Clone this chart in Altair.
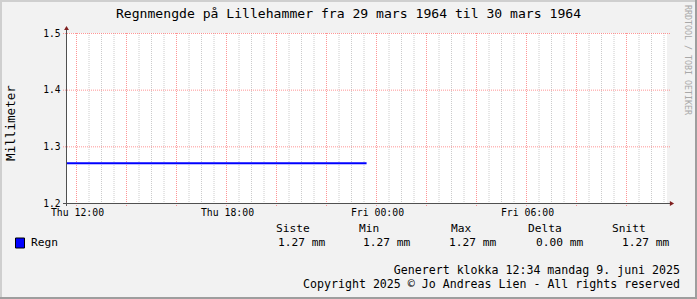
import altair as alt
import pandas as pd

FONT = "DejaVu Sans Mono"

# ---- data ----
title_text = "Regnmengde på Lillehammer fra 29 mars 1964 til 30 mars 1964"
y_title = "Millimeter"
watermark = "RRDTOOL / TOBI OETIKER"
series_name = "Regn"
line_times = ["1964-03-29T11:36:00Z", "1964-03-29T23:35:00Z"]
line_values = [1.27, 1.27]
x_start = "1964-03-29T11:36:00Z"
x_end = "1964-03-30T11:36:00Z"
x_label_times = ["1964-03-29T12:00:00Z", "1964-03-29T18:00:00Z",
                 "1964-03-30T00:00:00Z", "1964-03-30T06:00:00Z"]
x_tick_labels = ["Thu 12:00", "Thu 18:00", "Fri 00:00", "Fri 06:00"]
y_ticks = [1.2, 1.3, 1.4, 1.5]
stat_headers = ["Siste", "Min", "Max", "Delta", "Snitt"]
stat_values = ["1.27 mm", "1.27 mm", "1.27 mm", "0.00 mm", "1.27 mm"]
footer_lines = ["Generert klokka 12:34 mandag 9. juni 2025",
                "Copyright 2025 © Jo Andreas Lien - All rights reserved"]


def ms(s):
    return int(pd.Timestamp(s).value // 1_000_000)


x_domain = [ms(x_start), ms(x_end)]
major_grid = [ms(t) for t in pd.date_range("1964-03-29T12:00:00Z", "1964-03-30T10:00:00Z", freq="2h")]
minor_all = [ms(t) for t in pd.date_range("1964-03-29T12:30:00Z", "1964-03-30T11:30:00Z", freq="30min")]
minor_grid = [t for t in minor_all if t not in major_grid]

OX, OY = 67, 33  # view origin in page pixels

xscale = alt.Scale(type="utc", domain=x_domain)
yscale = alt.Scale(domain=[1.2, 1.5])

label_expr = "''"
for t, lab in zip(reversed(x_label_times), reversed(x_tick_labels)):
    label_expr = f"(+datum.value == {ms(t)} ? '{lab}' : {label_expr})"

X_AX = alt.Axis(values=[ms(t) for t in x_label_times],
                labelExpr=label_expr,
                labelFont=FONT, labelFontSize=9.8, labelColor="#000",
                labelBaseline="middle", labelPadding=9, ticks=False,
                domain=False, grid=False, labelFlush=False, title=None)
Y_AX = alt.Axis(values=y_ticks, format=".1f", labelFont=FONT,
                labelFontSize=9.6, labelColor="#000", labelPadding=7,
                ticks=False, domain=False, grid=False, title=None)

line_df = pd.DataFrame({"t": [ms(t) for t in line_times], "v": line_values})

minor = alt.Chart(pd.DataFrame({"t": minor_grid})).mark_rule(
    color="#CCCCCC", strokeDash=[1, 1], strokeWidth=1, xOffset=-0.5
).encode(x=alt.X("t:T", scale=xscale, axis=X_AX, title=None), y=alt.value(0), y2=alt.value(172))

major = alt.Chart(pd.DataFrame({"t": major_grid})).mark_rule(
    color="#FF6A6A", strokeDash=[1, 1], strokeWidth=1, xOffset=-0.5, opacity=0.7
).encode(x=alt.X("t:T", scale=xscale, axis=X_AX, title=None), y=alt.value(0), y2=alt.value(174))

hgrid = alt.Chart(pd.DataFrame({"v": y_ticks})).mark_rule(
    color="#FF6A6A", strokeDash=[1, 1], strokeWidth=1, yOffset=0.5, opacity=0.7
).encode(y=alt.Y("v:Q", scale=yscale, axis=Y_AX, title=None), x=alt.value(-4), x2=alt.value(603))

data_line = alt.Chart(line_df).mark_line(color="#0000FF", strokeWidth=2).encode(
    x=alt.X("t:T", scale=xscale, axis=X_AX, title=None),
    y=alt.Y("v:Q", scale=yscale, axis=Y_AX, title=None)
)

one = pd.DataFrame({"a": [0]})

yaxis_line = alt.Chart(one).mark_rule(color="#505050", strokeWidth=1).encode(
    x=alt.value(-0.5), y=alt.value(173), y2=alt.value(-3))
xaxis_line = alt.Chart(one).mark_rule(color="#505050", strokeWidth=1).encode(
    x=alt.value(-4), x2=alt.value(603), y=alt.value(170.5))
arrow_up = alt.Chart(one).mark_point(shape="triangle-up", filled=True, color="#7F1F1F",
                                     size=24, opacity=1).encode(
    x=alt.value(-0.5), y=alt.value(-5))
arrow_right = alt.Chart(one).mark_point(shape="triangle-right", filled=True, color="#7F1F1F",
                                        size=24, opacity=1).encode(
    x=alt.value(605), y=alt.value(170.5))


def txt(s, x, y, size, align="left", angle=0, color="#000000"):
    return alt.Chart(pd.DataFrame({"s": [s]})).mark_text(
        font=FONT, fontSize=size, align=align, baseline="middle", angle=angle, color=color
    ).encode(text="s:N", x=alt.value(x - OX), y=alt.value(y - OY))


texts = [
    txt(title_text, 348.5, 14, 13.1, align="center"),
    txt(y_title, 10.5, 123, 12.6, align="center", angle=270),
    txt(watermark, 687, 5, 8.3, align="left", angle=90, color="#A8A8A8"),
    txt(series_name, 31, 243, 11.2),
]
header_x = [276, 359, 451, 528, 612]
value_x = [278, 363, 449, 536, 622]
for h, hx in zip(stat_headers, header_x):
    texts.append(txt(h, hx, 228.5, 11.2))
for v, vx in zip(stat_values, value_x):
    texts.append(txt(v, vx, 243, 11.2))
texts.append(txt(footer_lines[0], 680, 270.7, 11.6, align="right"))
texts.append(txt(footer_lines[1], 680, 285.3, 11.6, align="right"))

legend_box = alt.Chart(one).mark_rect(color="#0000FF", stroke="#000000", strokeWidth=1).encode(
    x=alt.value(15.5 - OX), x2=alt.value(24.5 - OX), y=alt.value(238 - OY), y2=alt.value(248 - OY))

# frame
frame_light_top = alt.Chart(one).mark_rule(color="#CFCFCF", strokeWidth=2).encode(
    x=alt.value(-OX), x2=alt.value(697 - OX), y=alt.value(1 - OY))
frame_light_left = alt.Chart(one).mark_rule(color="#CFCFCF", strokeWidth=2).encode(
    x=alt.value(1 - OX), y=alt.value(-OY), y2=alt.value(299 - OY))
frame_dark_bottom = alt.Chart(one).mark_rule(color="#9E9E9E", strokeWidth=2).encode(
    x=alt.value(-OX), x2=alt.value(697 - OX), y=alt.value(298 - OY))
frame_dark_right = alt.Chart(one).mark_rule(color="#9E9E9E", strokeWidth=2).encode(
    x=alt.value(696 - OX), y=alt.value(-OY), y2=alt.value(299 - OY))

chart = alt.layer(
    minor, major, hgrid, data_line, yaxis_line, xaxis_line, arrow_up, arrow_right,
    legend_box, *texts,
    frame_light_top, frame_light_left, frame_dark_bottom, frame_dark_right,
).properties(
    width=600, height=170,
    padding={"left": OX, "top": OY, "right": 30, "bottom": 96},
    autosize=alt.AutoSizeParams(type="none"),
    background="#F2F2F2",
).configure_view(fill="white", stroke=None)

chart.save("out.html", embed_options={"renderer": "svg", "actions": False})
